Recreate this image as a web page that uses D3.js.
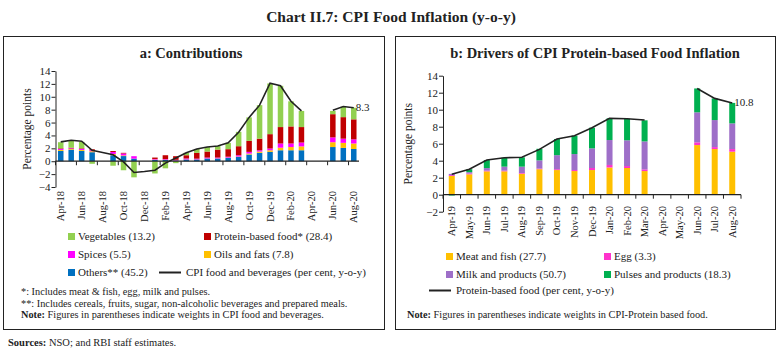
<!DOCTYPE html>
<html>
<head>
<meta charset="utf-8">
<script src="https://cdn.jsdelivr.net/npm/d3@7"></script>
<style>
  body { margin: 0; background: #fff; }
  text { font-family: "Liberation Serif", serif; fill: #222; }
</style>
</head>
<body>
<div id="chart"></div>
<script>
// panel a: contributions (percentage points)
const monthsA = ['Apr-18','May-18','Jun-18','Jul-18','Aug-18','Sep-18','Oct-18','Nov-18','Dec-18','Jan-19','Feb-19','Mar-19',
  'Apr-19','May-19','Jun-19','Jul-19','Aug-19','Sep-19','Oct-19','Nov-19','Dec-19','Jan-20','Feb-20','Mar-20',
  'Apr-20','May-20','Jun-20','Jul-20','Aug-20'];
const others   = [1.6,1.8,1.6,1.4,null,0.93,0.8,0.4,null,0.2,0.2,0.1,0.26,0.26,0.41,0.41,0.52,0.67,1.04,1.3,1.45,1.7,1.7,1.7,null,null,2.2,2.07,1.9];
const oils     = [0.15,0.1,0.15,0.15,null,0.2,0.1,0.0,null,0.05,0.03,0.02,0.02,0.02,0.02,0.03,0.04,0.06,0.15,0.2,0.25,0.4,0.5,0.6,null,null,0.75,0.78,0.85];
const spices   = [0.15,0.1,0.15,0.15,null,0.3,0.3,0.38,null,0.1,0.1,0.1,0.15,0.12,0.14,0.13,0.14,0.2,0.26,0.2,0.27,0.65,0.55,0.6,null,null,0.75,0.65,0.65];
const protein  = [0.1,0.1,0.1,0.15,null,0.15,0.1,0.0,null,0.22,0.6,0.56,0.5,0.9,0.93,1.23,1.17,1.4,1.71,1.8,2.23,2.55,2.65,2.4,null,null,3.6,3.34,3.1];
const vegetables = [0.95,1.1,1.0,-0.4,null,-0.7,-1.4,-2.5,null,-1.9,-1.1,-0.3,0.37,0.6,0.7,0.55,0.98,2.23,3.64,5.2,7.87,6.4,3.9,2.5,null,null,0.5,1.61,1.8];
const cpiFood  = [3.0,3.25,3.1,1.7,1.35,1.0,-0.1,-1.75,-1.6,-1.4,-0.3,0.5,1.3,1.9,2.2,2.35,2.85,4.5,6.8,8.7,12.1,11.7,9.3,7.8,null,null,7.9,8.5,8.3];

// panel b: protein-based food drivers
const monthsB = ['Apr-19','May-19','Jun-19','Jul-19','Aug-19','Sep-19','Oct-19','Nov-19','Dec-19','Jan-20','Feb-20','Mar-20',
  'Apr-20','May-20','Jun-20','Jul-20','Aug-20'];
const meatFish = [2.2,2.4,2.75,2.75,2.47,3.0,2.9,2.78,2.9,3.2,3.14,2.78,null,null,5.84,5.37,5.06];
const egg      = [0.1,0.1,0.08,0.08,0.08,0.08,0.1,0.12,0.24,0.3,0.23,0.2,null,null,0.32,0.23,0.31];
const milk     = [0.15,0.15,0.3,0.47,0.75,0.96,1.65,1.88,2.31,2.93,3.03,3.29,null,null,3.53,3.18,3.02];
const pulses   = [-0.1,0.35,0.95,1.05,1.1,1.36,1.9,2.16,2.43,2.55,2.54,2.48,null,null,2.81,2.55,2.41];
const proteinFood = [2.4,3.0,4.08,4.35,4.4,5.33,6.55,6.94,7.88,8.98,8.94,8.78,null,null,12.5,11.33,10.8];

const yTicksA = [-4,-2,0,2,4,6,8,10,12,14];
const yTicksB = [-2,0,2,4,6,8,10,12,14];

const W = 782, H = 359;
const svg = d3.select('#chart').append('svg').attr('width', W).attr('height', H);

// title and panel boxes
svg.append('text').attr('x', 391).attr('y', 22).attr('text-anchor', 'middle')
  .style('font-size', '15.5px').style('font-weight', 'bold').text('Chart II.7: CPI Food Inflation (y-o-y)');

svg.append('rect').attr('x', 3.5).attr('y', 36.5).attr('width', 381).attr('height', 293)
  .attr('fill', 'none').attr('stroke', '#222').attr('stroke-width', 1);
svg.append('rect').attr('x', 395.5).attr('y', 36.5).attr('width', 380).attr('height', 293)
  .attr('fill', 'none').attr('stroke', '#222').attr('stroke-width', 1);

svg.append('text').attr('x', 191).attr('y', 58).attr('text-anchor', 'middle')
  .style('font-size', '14.5px').style('font-weight', 'bold').text('a: Contributions');
svg.append('text').attr('x', 595).attr('y', 58).attr('text-anchor', 'middle')
  .style('font-size', '14.5px').style('font-weight', 'bold').text('b: Drivers of CPI Protein-based Food Inflation');

svg.append('text').attr('x', 8).attr('y', 346).style('font-size', '10.5px')
  .html('<tspan font-weight="bold">Sources:</tspan> NSO; and RBI staff estimates.');

function drawPanel(cfg) {
  const g = svg.append('g');
  const x = d3.scaleBand().domain(cfg.months).range(cfg.xRange).paddingInner(0).paddingOuter(0);
  const y = d3.scaleLinear().domain(cfg.yDomain).range(cfg.yRange);

  // stacked bars (diverging)
  const rows = cfg.months.map((m, i) => {
    const r = { month: m };
    cfg.series.forEach(s => { r[s.key] = s.values[i]; });
    return r;
  }).filter(r => cfg.series.some(s => r[s.key] != null));

  const stack = d3.stack().keys(cfg.series.map(s => s.key)).offset(d3.stackOffsetDiverging);
  const layers = stack(rows);
  const color = d3.scaleOrdinal().domain(cfg.series.map(s => s.key)).range(cfg.series.map(s => s.color));

  g.selectAll('g.layer').data(layers).enter().append('g')
    .attr('fill', d => color(d.key))
    .selectAll('rect').data(d => d).enter().append('rect')
    .attr('x', d => x(d.data.month) + (x.bandwidth() - cfg.barW) / 2)
    .attr('width', cfg.barW)
    .attr('y', d => y(Math.max(d[0], d[1])))
    .attr('height', d => Math.abs(y(d[0]) - y(d[1])));

  // y axis
  const yAxis = g.append('g').attr('transform', `translate(${cfg.xRange[0]},0)`)
    .call(d3.axisLeft(y).tickValues(cfg.yTicks).tickSize(4).tickSizeOuter(0));
  yAxis.select('.domain').attr('stroke', '#222');
  yAxis.selectAll('.tick line').attr('stroke', '#222');
  yAxis.selectAll('.tick text').style('font-size', '11px').style('font-family', '"Liberation Serif", serif').attr('fill', '#222').attr('x', -5);

  // x axis along zero
  const boundaries = cfg.months.map(m => x(m)).concat([cfg.xRange[1]]);
  const tickPos = boundaries.filter((b, i) => cfg.tickEvery === 1 ? true : (i % 2 === 0));
  g.append('line').attr('x1', cfg.xRange[0]).attr('x2', cfg.xRange[1])
    .attr('y1', y(0)).attr('y2', y(0)).attr('stroke', '#222').attr('stroke-width', 1.2);
  g.selectAll('line.xt').data(tickPos).enter().append('line')
    .attr('x1', d => d).attr('x2', d => d).attr('y1', y(0)).attr('y2', y(0) + 4)
    .attr('stroke', '#222');

  const labMonths = cfg.months.filter((m, i) => i % cfg.labelEvery === 0);
  g.selectAll('text.xl').data(labMonths).enter().append('text')
    .attr('transform', d => `translate(${x(d) + x.bandwidth() / 2 + 3.5},${cfg.labelY}) rotate(-90)`)
    .attr('text-anchor', 'end').style('font-size', '10.5px').text(d => d);

  // y label
  g.append('text').attr('transform', `translate(${cfg.yLabelX},${(cfg.yRange[0] + cfg.yRange[1]) / 2}) rotate(-90)`)
    .attr('text-anchor', 'middle').style('font-size', '11.5px').text('Percentage points');

  // line
  const line = d3.line().defined(d => d != null)
    .x((d, i) => x(cfg.months[i]) + x.bandwidth() / 2).y(d => y(d));
  g.append('path').datum(cfg.line).attr('d', line)
    .attr('fill', 'none').attr('stroke', '#222').attr('stroke-width', 1.6);

  const last = cfg.line.length - 1;
  g.append('text').attr('x', x(cfg.months[last]) + x.bandwidth() / 2 + 2).attr('y', y(cfg.line[last]) + 3)
    .style('font-size', '11px').text(cfg.lastLabel);
  return g;
}

drawPanel({
  months: monthsA,
  xRange: [55.5, 359],
  yDomain: [-4, 14], yRange: [187, 71], yTicks: yTicksA,
  barW: 5.5, tickEvery: 2, labelEvery: 2, labelY: 191, yLabelX: 31,
  series: [
    { key: 'Others', values: others, color: '#0070C0' },
    { key: 'Oils', values: oils, color: '#FFC000' },
    { key: 'Spices', values: spices, color: '#FF00FF' },
    { key: 'Protein', values: protein, color: '#C00000' },
    { key: 'Vegetables', values: vegetables, color: '#92D050' }
  ],
  line: cpiFood, lastLabel: '8.3'
});

drawPanel({
  months: monthsB,
  xRange: [443, 741],
  yDomain: [-2, 14], yRange: [211.7, 75.7], yTicks: yTicksB,
  barW: 6, tickEvery: 1, labelEvery: 1, labelY: 206, yLabelX: 412,
  series: [
    { key: 'Meat', values: meatFish, color: '#FFC000' },
    { key: 'Egg', values: egg, color: '#FF33CC' },
    { key: 'Milk', values: milk, color: '#9E6FC8' },
    { key: 'Pulses', values: pulses, color: '#00B050' }
  ],
  line: proteinFood, lastLabel: '10.8'
});

// legends
function legendItem(xp, yp, color, label) {
  if (color) {
    svg.append('rect').attr('x', xp).attr('y', yp - 7).attr('width', 7).attr('height', 7).attr('fill', color);
    svg.append('text').attr('x', xp + 10).attr('y', yp).style('font-size', '11px').text(label);
  } else {
    svg.append('line').attr('x1', xp).attr('x2', xp + 22).attr('y1', yp - 3.5).attr('y2', yp - 3.5)
      .attr('stroke', '#222').attr('stroke-width', 2);
    svg.append('text').attr('x', xp + 27).attr('y', yp).style('font-size', '11px').text(label);
  }
}
legendItem(68, 240, '#92D050', 'Vegetables (13.2)');
legendItem(204, 240, '#C00000', 'Protein-based food* (28.4)');
legendItem(68, 258, '#FF00FF', 'Spices (5.5)');
legendItem(204, 258, '#FFC000', 'Oils and fats (7.8)');
legendItem(68, 276, '#0070C0', 'Others** (45.2)');
legendItem(159, 276, null, 'CPI food and beverages (per cent, y-o-y)');

const notesA = [
  ['', '*: Includes meat & fish, egg, milk and pulses.'],
  ['', '**: Includes cereals, fruits, sugar, non-alcoholic beverages and prepared meals.'],
  ['Note:', ' Figures in parentheses indicate weights in CPI food and beverages.']
];
notesA.forEach((n, i) => {
  const t = svg.append('text').attr('x', 21).attr('y', 295 + i * 11.5).style('font-size', '10.3px');
  if (n[0]) t.append('tspan').style('font-weight', 'bold').text(n[0]);
  t.append('tspan').text(n[1]);
});

legendItem(446, 260, '#FFC000', 'Meat and fish (27.7)');
legendItem(604, 260, '#FF33CC', 'Egg (3.3)');
legendItem(446, 278, '#9E6FC8', 'Milk and products (50.7)');
legendItem(604, 278, '#00B050', 'Pulses and products (18.3)');
legendItem(429, 294, null, 'Protein-based food (per cent, y-o-y)');

const noteB = svg.append('text').attr('x', 407).attr('y', 318).style('font-size', '10.3px');
noteB.append('tspan').style('font-weight', 'bold').text('Note:');
noteB.append('tspan').text(' Figures in parentheses indicate weights in CPI-Protein based food.');
</script>
</body>
</html>
